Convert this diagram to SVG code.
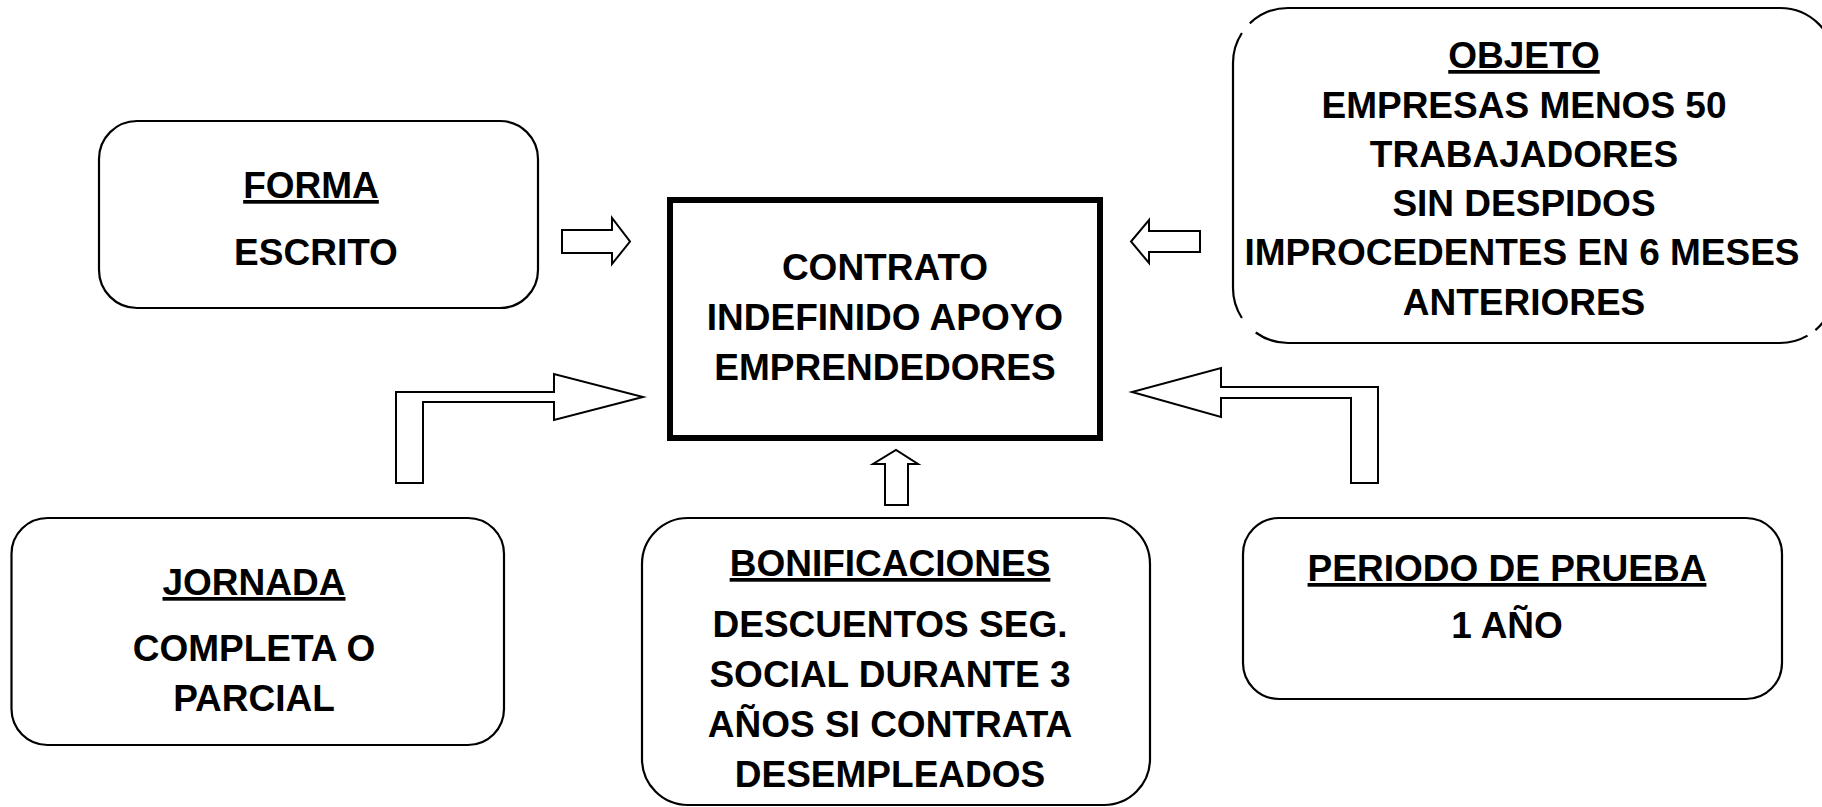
<svg xmlns="http://www.w3.org/2000/svg" width="1822" height="807" viewBox="0 0 1822 807">
<style>
.box{fill:#fff;stroke:#000;stroke-width:2.2}
.main{fill:#fff;stroke:#000;stroke-width:6}
.arr{fill:#fff;stroke:#000;stroke-width:2;stroke-linejoin:miter}
.t{font-family:"Liberation Sans",Arial,sans-serif;font-weight:bold;font-size:37px;text-anchor:middle;fill:#000}
.u{text-decoration:underline}
</style>
<rect width="1822" height="807" fill="#fff"/>
<g id="connectors">
<polygon class="arr" points="562,230 612,230 612,218 630,241.5 612,264 612,253 562,253"/>
<polygon class="arr" points="1200,231 1149,231 1149,220 1131,241.5 1149,263 1149,252 1200,252"/>
<polygon class="arr" points="396,483 396,392 554,392 554,374 643,397 554,420 554,402 423,402 423,483"/>
<polygon class="arr" points="1378,483 1378,387 1221,387 1221,368 1132,392 1221,417 1221,398 1351,398 1351,483"/>
<polygon class="arr" points="885,505 885,464 873,464 896,450 918,464 908,464 908,505"/>
</g>
<g id="contrato">
<rect class="main" x="670" y="200" width="430" height="238"/>
<text class="t" x="885" y="280">CONTRATO</text>
<text class="t" x="885" y="330">INDEFINIDO APOYO</text>
<text class="t" x="885" y="380">EMPRENDEDORES</text>
</g>
<g id="forma">
<rect class="box" x="99" y="121" width="439" height="187" rx="38" ry="38"/>
<text class="t u" x="311" y="198">FORMA</text>
<text class="t" x="316" y="265">ESCRITO</text>
</g>
<g id="objeto">
<path fill="#fff" stroke="none" d="M1288,8 L1780,8 A55,55 0 0 1 1835,63 L1835,288 A55,55 0 0 1 1780,343 L1288,343 A55,55 0 0 1 1233,288 L1233,63 A55,55 0 0 1 1288,8 Z"/>
<path fill="none" stroke="#000" stroke-width="2.2" d="M1249.8,23.4 A55,55 0 0 1 1288,8 L1780,8 A55,55 0 0 1 1835,63 L1835,288 A55,55 0 0 1 1815.4,330.1 M1807.5,335.6 A55,55 0 0 1 1780,343 L1288,343 A55,55 0 0 1 1255.7,332.5 M1241.9,318 A55,55 0 0 1 1233,288 L1233,63 A55,55 0 0 1 1241.9,33"/>
<text class="t u" x="1524" y="68">OBJETO</text>
<text class="t" x="1524" y="118">EMPRESAS MENOS 50</text>
<text class="t" x="1524" y="167">TRABAJADORES</text>
<text class="t" x="1524" y="216">SIN DESPIDOS</text>
<text class="t" x="1522" y="265">IMPROCEDENTES EN 6 MESES</text>
<text class="t" x="1524" y="315">ANTERIORES</text>
</g>
<g id="jornada">
<rect class="box" x="11.5" y="518" width="492.5" height="227" rx="36" ry="36"/>
<text class="t u" x="254" y="595">JORNADA</text>
<text class="t" x="254" y="661">COMPLETA O</text>
<text class="t" x="254" y="711">PARCIAL</text>
</g>
<g id="bonificaciones">
<rect class="box" x="642" y="518" width="508" height="287" rx="46" ry="46"/>
<text class="t u" x="890" y="576">BONIFICACIONES</text>
<text class="t" x="890" y="637">DESCUENTOS SEG.</text>
<text class="t" x="890" y="687">SOCIAL DURANTE 3</text>
<text class="t" x="890" y="737">AÑOS SI CONTRATA</text>
<text class="t" x="890" y="787">DESEMPLEADOS</text>
</g>
<g id="periodo">
<rect class="box" x="1243" y="518" width="539" height="181" rx="36" ry="36"/>
<text class="t u" x="1507" y="581">PERIODO DE PRUEBA</text>
<text class="t" x="1507" y="638">1 AÑO</text>
</g>
</svg>
